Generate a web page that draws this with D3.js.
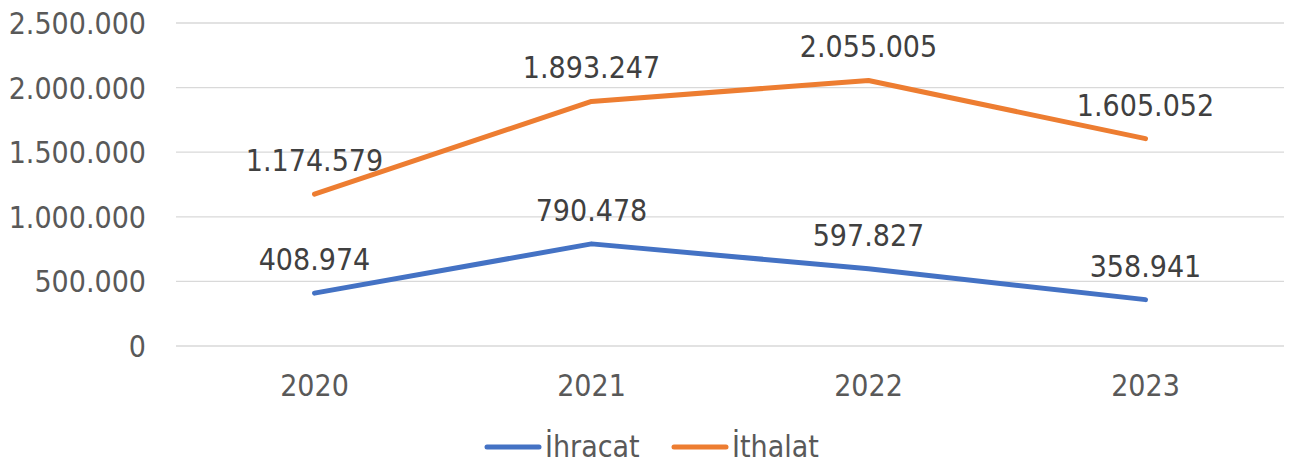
<!DOCTYPE html>
<html lang="tr">
<head>
<meta charset="UTF-8">
<title>İhracat / İthalat</title>
<script src="https://d3js.org/d3.v7.min.js"></script>
<style>
    body { margin: 0; background: #fff; }
    svg text { font-family: "DejaVu Sans Condensed", "DejaVu Sans", sans-serif; font-stretch: condensed; fill: #595959; }
</style>
</head>
<body>
<script>
    // data
    const years = ["2020", "2021", "2022", "2023"];
    const ihracat = [408974, 790478, 597827, 358941];
    const ithalat = [1174579, 1893247, 2055005, 1605052];
    const yTicks = [0, 500000, 1000000, 1500000, 2000000, 2500000];
    const seriesNames = ["İhracat", "İthalat"];
    const seriesColors = ["#4472C4", "#ED7D31"];

    const width = 1293, height = 463;
    const margin = {left: 176, right: 9, top: 23, bottom: 117};

    const svg = d3.select("body").append("svg")
        .attr("width", width)
        .attr("height", height);

    const x = d3.scaleBand()
        .domain(years)
        .range([margin.left, width - margin.right]);

    const y = d3.scaleLinear()
        .domain([0, 2500000])
        .range([height - margin.bottom, margin.top]);

    // turkish thousands separator
    const fmt = d3.formatLocale({decimal: ",", thousands: ".", grouping: [3], currency: ["", ""]}).format(",d");

    // gridlines
    svg.append("g")
        .selectAll("line")
        .data(yTicks)
        .join("line")
        .attr("x1", margin.left)
        .attr("x2", width - margin.right)
        .attr("y1", d => y(d))
        .attr("y2", d => y(d))
        .attr("stroke", "#D9D9D9")
        .attr("stroke-width", 1.3);

    // y labels
    svg.append("g")
        .selectAll("text")
        .data(yTicks)
        .join("text")
        .attr("x", 146)
        .attr("y", d => y(d) + 11)
        .attr("text-anchor", "end")
        .attr("font-size", 30)
        .text(d => fmt(d));

    // x labels
    svg.append("g")
        .selectAll("text")
        .data(years)
        .join("text")
        .attr("x", d => x(d) + x.bandwidth() / 2)
        .attr("y", 396)
        .attr("text-anchor", "middle")
        .attr("font-size", 30)
        .text(d => d);

    const line = d3.line()
        .x((d, i) => x(years[i]) + x.bandwidth() / 2)
        .y(d => y(d));

    [ihracat, ithalat].forEach((vals, k) => {
        svg.append("path")
            .datum(vals)
            .attr("d", line)
            .attr("fill", "none")
            .attr("stroke", seriesColors[k])
            .attr("stroke-width", 5)
            .attr("stroke-linecap", "round")
            .attr("stroke-linejoin", "round");

        svg.append("g")
            .selectAll("text")
            .data(vals)
            .join("text")
            .attr("x", (d, i) => x(years[i]) + x.bandwidth() / 2)
            .attr("y", d => y(d) - 23)
            .attr("text-anchor", "middle")
            .attr("font-size", 30)
            .attr("fill", "#404040")
            .style("fill", "#404040")
            .text(d => fmt(d));
    });

    // legend
    const legendX = [485, 672];
    const lg = svg.append("g");
    seriesNames.forEach((name, k) => {
        lg.append("line")
            .attr("x1", legendX[k] + 2)
            .attr("x2", legendX[k] + 54)
            .attr("y1", 447)
            .attr("y2", 447)
            .attr("stroke", seriesColors[k])
            .attr("stroke-width", 5)
            .attr("stroke-linecap", "round");
        lg.append("text")
            .attr("x", legendX[k] + 60)
            .attr("y", 457)
            .attr("font-size", 30)
            .text(name);
    });
</script>
</body>
</html>
